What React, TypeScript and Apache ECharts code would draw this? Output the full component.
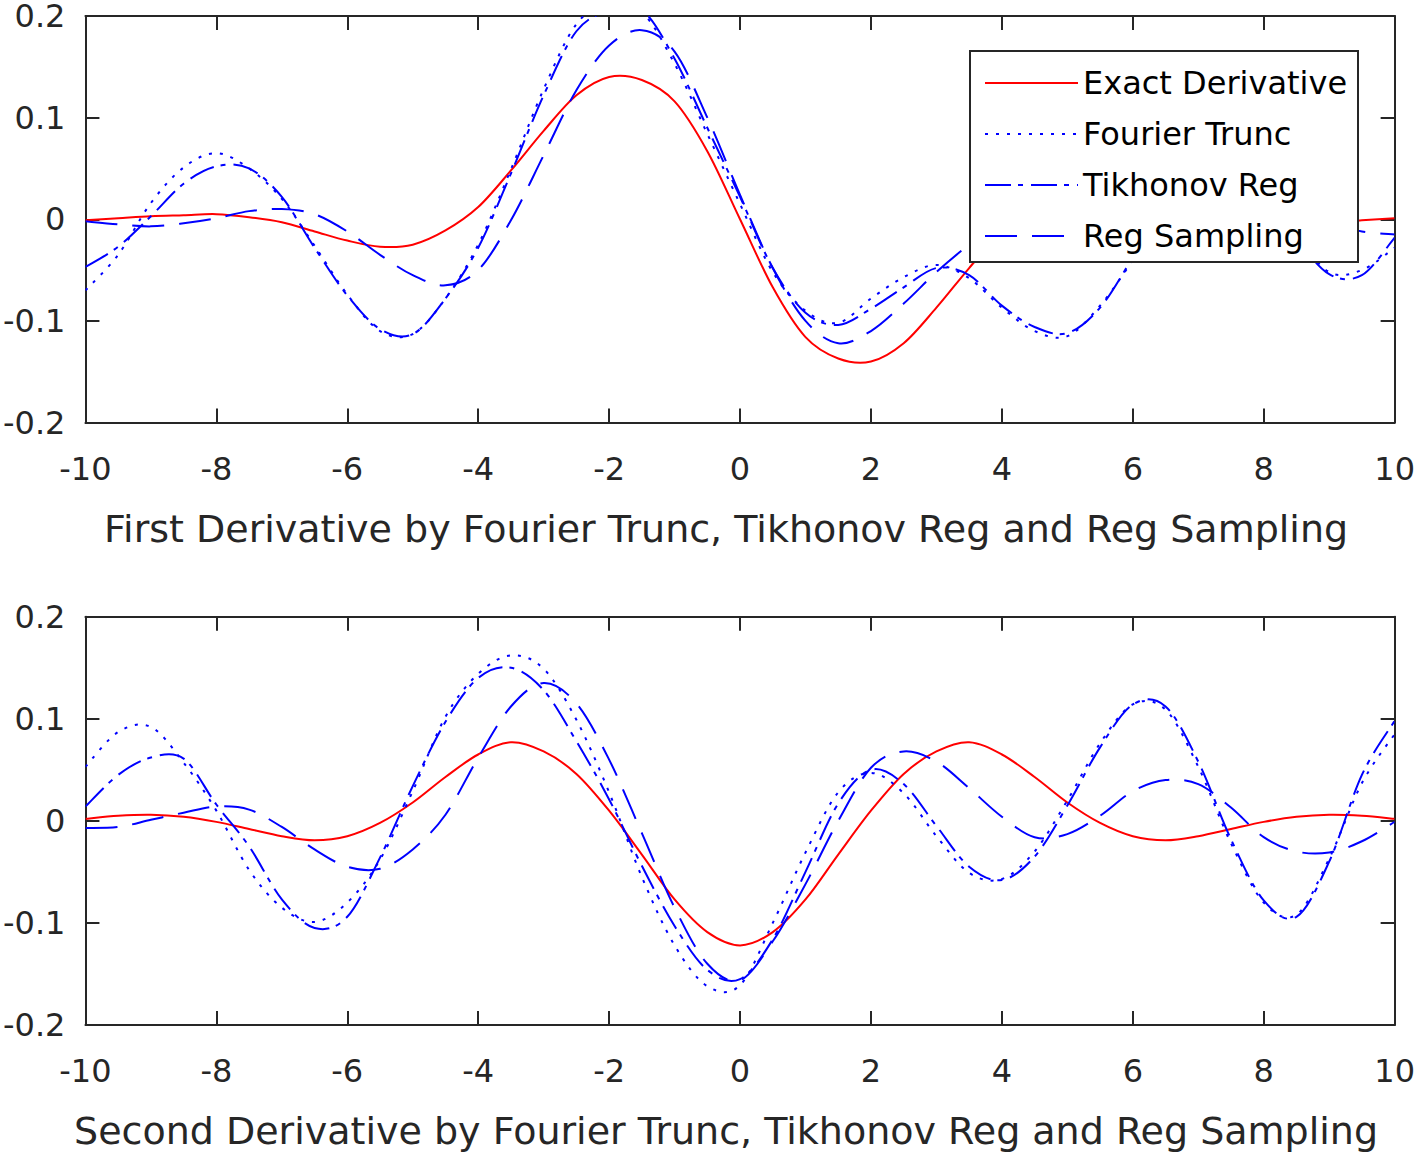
import React, { useEffect, useRef } from "react";
import * as echarts from "echarts";

const xs: number[] = [
  -10, -9.5, -9, -8.5, -8, -7.5, -7, -6.5, -6, -5.5, -5, -4.5, -4, -3.5, -3, -2.5, -2, -1.5, -1, -0.5, 0,
  0.5, 1, 1.5, 2, 2.5, 3, 3.5, 4, 4.5, 5, 5.5, 6, 6.5, 7, 7.5, 8, 8.5, 9, 9.5, 10,
];

const seriesNames = ["Exact Derivative", "Fourier Trunc", "Tikhonov Reg", "Reg Sampling"];
const xTicks = { min: -10, max: 10, step: 2 };
const yTicks = { min: -0.2, max: 0.2, step: 0.1 };
const title1 = "First Derivative by Fourier Trunc, Tikhonov Reg and Reg Sampling";
const title2 = "Second Derivative by Fourier Trunc, Tikhonov Reg and Reg Sampling";

// First derivative panel
const exact1: number[] = [
  -0.001, 0.001, 0.003, 0.004, 0.005, 0.002, -0.003, -0.012, -0.021, -0.027, -0.025, -0.011, 0.012, 0.048, 0.087, 0.122, 0.140, 0.137, 0.116, 0.067, 0,
  -0.067, -0.116, -0.137, -0.140, -0.122, -0.087, -0.048, -0.012, 0.011, 0.025, 0.027, 0.021, 0.012, 0.003, -0.002, -0.005, -0.004, -0.003, -0.001, 0.001,
];
const fourier1: number[] = [
  -0.070, -0.035, 0.016, 0.051, 0.065, 0.050, 0.020, -0.026, -0.074, -0.110, -0.113, -0.078, -0.025, 0.049, 0.128, 0.192, 0.212, 0.204, 0.153, 0.084, 0.015,
  -0.052, -0.090, -0.102, -0.078, -0.057, -0.045, -0.058, -0.087, -0.110, -0.115, -0.085, -0.040, 0.012, 0.048, 0.058, 0.035, -0.015, -0.052, -0.050, -0.028,
];
const tikhonov1: number[] = [
  -0.047, -0.027, 0.003, 0.035, 0.052, 0.050, 0.022, -0.028, -0.075, -0.108, -0.113, -0.078, -0.028, 0.045, 0.122, 0.185, 0.205, 0.206, 0.158, 0.090, 0.022,
  -0.048, -0.092, -0.104, -0.088, -0.067, -0.048, -0.055, -0.085, -0.106, -0.112, -0.087, -0.038, 0.010, 0.045, 0.055, 0.032, -0.018, -0.054, -0.055, -0.018,
];
const regSampling1: number[] = [
  -0.002, -0.005, -0.007, -0.004, 0.001, 0.008, 0.010, 0.005, -0.012, -0.035, -0.055, -0.065, -0.050, -0.001, 0.063, 0.127, 0.171, 0.186, 0.165, 0.100, 0.024,
  -0.048, -0.100, -0.122, -0.110, -0.083, -0.052, -0.025, -0.002, 0.012, 0.015, 0.010, 0.000, -0.008, -0.010, -0.006, 0.000, 0.003, -0.004, -0.012, -0.015,
];

// Second derivative panel
const exact2: number[] = [
  0.002, 0.005, 0.006, 0.004, -0.001, -0.008, -0.015, -0.019, -0.015, -0.002, 0.018, 0.043, 0.065, 0.077, 0.068, 0.046, 0.010, -0.033, -0.077, -0.109, -0.122,
  -0.109, -0.077, -0.033, 0.010, 0.046, 0.068, 0.077, 0.065, 0.043, 0.018, -0.002, -0.015, -0.019, -0.015, -0.008, -0.001, 0.004, 0.006, 0.005, 0.002,
];
const fourier2: number[] = [
  0.053, 0.087, 0.092, 0.057, 0.010, -0.048, -0.085, -0.099, -0.080, -0.038, 0.029, 0.102, 0.144, 0.162, 0.149, 0.099, 0.028, -0.055, -0.122, -0.162, -0.161,
  -0.100, -0.031, 0.028, 0.047, 0.027, -0.015, -0.051, -0.057, -0.030, 0.020, 0.076, 0.114, 0.109, 0.053, -0.022, -0.080, -0.092, -0.037, 0.037, 0.085,
];
const tikhonov2: number[] = [
  0.014, 0.045, 0.062, 0.061, 0.016, -0.025, -0.077, -0.105, -0.094, -0.036, 0.034, 0.097, 0.140, 0.150, 0.128, 0.078, 0.021, -0.044, -0.103, -0.146, -0.155,
  -0.116, -0.050, 0.017, 0.050, 0.036, -0.005, -0.045, -0.058, -0.035, 0.015, 0.072, 0.114, 0.112, 0.058, -0.018, -0.078, -0.094, -0.040, 0.045, 0.098,
];
const regSampling2: number[] = [
  -0.007, -0.006, 0.001, 0.008, 0.014, 0.011, -0.006, -0.028, -0.045, -0.047, -0.028, 0.006, 0.062, 0.112, 0.135, 0.115, 0.060, -0.012, -0.085, -0.140, -0.156,
  -0.118, -0.062, 0.000, 0.052, 0.068, 0.058, 0.032, 0.004, -0.016, -0.013, 0.005, 0.029, 0.040, 0.036, 0.013, -0.016, -0.030, -0.031, -0.020, -0.001,
];

const FONT = "DejaVu Sans";
const AXIS_COLOR = "#262626";

const lineStyles: any[] = [
  { color: "#ff0000", width: 2, type: "solid" },
  { color: "#0000ff", width: 2, type: [3, 8] },
  { color: "#0000ff", width: 2, type: [26, 7, 5, 8] },
  { color: "#0000ff", width: 2, type: [32, 15] },
];

function pairs(vals: number[]) {
  return xs.map((x, i) => [x, vals[i]]);
}

// Draw a whole series as one Catmull-Rom spline through the points given by the axes' scales.
function splineRenderer(style: any) {
  return (params: any, api: any) => {
    if (params.dataIndexInside !== 0) return null;
    const n = params.dataInsideLength;
    const pts: number[][] = [];
    for (let j = 0; j < n; j++) {
      pts.push(api.coord([api.value(0, j), api.value(1, j)]));
    }
    let d = `M${pts[0][0]},${pts[0][1]}`;
    for (let i = 0; i < n - 1; i++) {
      const p0 = pts[Math.max(0, i - 1)];
      const p1 = pts[i];
      const p2 = pts[i + 1];
      const p3 = pts[Math.min(n - 1, i + 2)];
      const c1x = p1[0] + (p2[0] - p0[0]) / 6;
      const c1y = p1[1] + (p2[1] - p0[1]) / 6;
      const c2x = p2[0] - (p3[0] - p1[0]) / 6;
      const c2y = p2[1] - (p3[1] - p1[1]) / 6;
      d += ` C${c1x},${c1y} ${c2x},${c2y} ${p2[0]},${p2[1]}`;
    }
    const cs = params.coordSys;
    return {
      type: "path",
      shape: { pathData: d },
      style: {
        fill: "none",
        stroke: style.color,
        lineWidth: style.width,
        lineDash: style.type === "solid" ? null : style.type,
      },
      clipPath: { type: "rect", shape: { x: cs.x, y: cs.y, width: cs.width, height: cs.height } },
    };
  };
}

function xAxisDef(gridIndex: number, position: "bottom" | "top", main: boolean, name?: string, nameGap?: number) {
  return {
    type: "value",
    gridIndex,
    position,
    min: xTicks.min,
    max: xTicks.max,
    interval: xTicks.step,
    axisLine: { show: true, onZero: false, lineStyle: { color: AXIS_COLOR, width: 2 } },
    axisTick: { show: true, inside: true, length: 14, lineStyle: { color: AXIS_COLOR, width: 2 } },
    axisLabel: { show: main, margin: 30, fontSize: 32, fontFamily: FONT, color: AXIS_COLOR },
    splitLine: { show: false },
    name: main ? name : "",
    nameLocation: "middle",
    nameGap: nameGap ?? 0,
    nameTextStyle: { fontSize: 38, fontFamily: FONT, color: AXIS_COLOR, padding: [0, 28, 0, 0] },
  };
}

function yAxisDef(gridIndex: number, position: "left" | "right", main: boolean) {
  return {
    type: "value",
    gridIndex,
    position,
    min: yTicks.min,
    max: yTicks.max,
    interval: yTicks.step,
    axisLine: { show: true, onZero: false, lineStyle: { color: AXIS_COLOR, width: 2 } },
    axisTick: { show: true, inside: true, length: 14, lineStyle: { color: AXIS_COLOR, width: 2 } },
    axisLabel: {
      show: main,
      margin: 20,
      fontSize: 32,
      lineHeight: 16,
      fontFamily: FONT,
      color: AXIS_COLOR,
      padding: [6, 0, 0, 0],
    },
    splitLine: { show: false },
  };
}

export default function App() {
  const ref = useRef<HTMLDivElement>(null);

  useEffect(() => {
    document.body.style.margin = "0";
    if (!ref.current) return;
    const chart = echarts.init(ref.current, null, { renderer: "svg" });

    const panel1 = [exact1, fourier1, tikhonov1, regSampling1];
    const panel2 = [exact2, fourier2, tikhonov2, regSampling2];

    const series: any[] = [];
    // Legend entries (line series carry the line styles shown in the legend)
    seriesNames.forEach((name, i) => {
      series.push({
        type: "line",
        name,
        xAxisIndex: 0,
        yAxisIndex: 0,
        data: [],
        symbol: "none",
        lineStyle: lineStyles[i],
        itemStyle: { color: lineStyles[i].color },
      });
    });
    panel1.forEach((vals, i) => {
      series.push({
        type: "custom",
        name: seriesNames[i] + " (first derivative)",
        xAxisIndex: 0,
        yAxisIndex: 0,
        data: pairs(vals),
        renderItem: splineRenderer(lineStyles[i]),
        z: 2,
      });
    });
    panel2.forEach((vals, i) => {
      series.push({
        type: "custom",
        name: seriesNames[i] + " (second derivative)",
        xAxisIndex: 2,
        yAxisIndex: 2,
        data: pairs(vals),
        renderItem: splineRenderer(lineStyles[i]),
        z: 2,
      });
    });

    chart.setOption({
      animation: false,
      backgroundColor: "#ffffff",
      grid: [
        { left: 83.5, top: 11.5, width: 1314, height: 411, containLabel: false },
        { left: 83.5, top: 616.7, width: 1314, height: 408.3, containLabel: false },
      ],
      xAxis: [
        xAxisDef(0, "bottom", true, title1, 87),
        xAxisDef(0, "top", false),
        xAxisDef(1, "bottom", true, title2, 87),
        xAxisDef(1, "top", false),
      ],
      yAxis: [
        yAxisDef(0, "left", true),
        yAxisDef(0, "right", false),
        yAxisDef(1, "left", true),
        yAxisDef(1, "right", false),
      ],
      graphic: [
        {
          type: "rect",
          z: 10,
          shape: { x: 970, y: 51, width: 388, height: 211 },
          style: { fill: "#ffffff", stroke: AXIS_COLOR, lineWidth: 2 },
        },
      ],
      legend: {
        data: seriesNames,
        orient: "vertical",
        left: 970,
        top: 51,
        padding: [12, 10, 6, 14],
        itemWidth: 93,
        itemHeight: 14,
        itemGap: 11,
        z: 20,
        selectedMode: false,
        itemStyle: { color: "rgba(0,0,0,0)", borderColor: "rgba(0,0,0,0)", borderWidth: 0 },
        textStyle: { fontSize: 32, lineHeight: 40, fontFamily: FONT, color: "#000000" },
      },
      series,
    });

    return () => {
      chart.dispose();
    };
  }, []);

  return <div ref={ref} style={{ width: 1418, height: 1155 }} />;
}
